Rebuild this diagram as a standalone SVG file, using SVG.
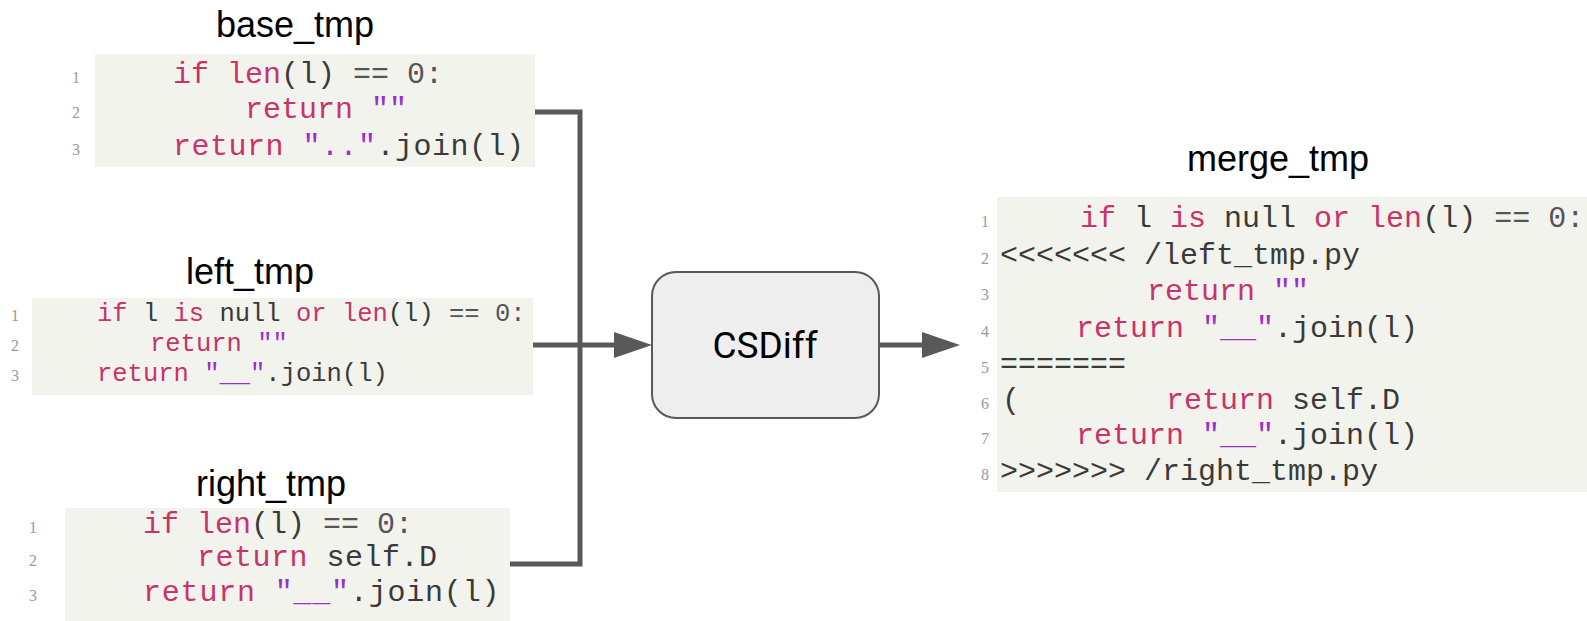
<svg xmlns="http://www.w3.org/2000/svg" width="1587" height="621" viewBox="0 0 1587 621">
<style>
.bg{fill:#f3f3ee}
.lbl{font-family:"Liberation Sans",Arial,sans-serif;font-size:36px;fill:#000;text-anchor:middle}
.code{font-family:"Liberation Mono","Courier New",monospace;fill:#3a3a3a;white-space:pre}
.c30{font-size:30px}
.c25{font-size:25.5px}
.kw{fill:#c8336a}
.st{fill:#9b2fc9}
.gy{fill:#555}
.ln{font-family:"Liberation Serif","Times New Roman",serif;font-size:16px;fill:#999;text-anchor:middle}
.conn{fill:none;stroke:#595959;stroke-width:5}
</style>
<defs>
<marker id="arr" markerUnits="userSpaceOnUse" markerWidth="38" markerHeight="26" viewBox="0 0 38 26" refX="26" refY="13" orient="auto">
<path d="M0,0 L38,13 L0,26 z" fill="#595959"/>
</marker>
</defs>
<rect width="1587" height="621" fill="#fff"/>

<g id="node-base">
<text class="lbl" x="295" y="37">base_tmp</text>
<rect class="bg" x="95" y="54" width="440" height="113"/>
<text class="ln" x="76" y="83">1</text>
<text class="ln" x="76" y="118">2</text>
<text class="ln" x="76" y="155">3</text>
<text class="code c30" x="173" y="83" xml:space="preserve"><tspan class="kw">if</tspan> <tspan class="kw">len</tspan>(l) <tspan class="gy">==</tspan> <tspan class="gy">0:</tspan></text>
<text class="code c30" x="245" y="118" xml:space="preserve"><tspan class="kw">return</tspan> <tspan class="st">""</tspan></text>
<text class="code c30" x="173" y="155" xml:space="preserve" letter-spacing="0.5"><tspan class="kw">return</tspan> <tspan class="st">".."</tspan>.join(l)</text>
</g>

<g id="node-left">
<text class="lbl" x="250" y="284">left_tmp</text>
<rect class="bg" x="32" y="298" width="501" height="97"/>
<text class="ln" x="15" y="321">1</text>
<text class="ln" x="15" y="351">2</text>
<text class="ln" x="15" y="381">3</text>
<text class="code c25" x="97" y="321" xml:space="preserve"><tspan class="kw">if</tspan> l <tspan class="kw">is</tspan> null <tspan class="kw">or</tspan> <tspan class="kw">len</tspan>(l) <tspan class="gy">==</tspan> <tspan class="gy">0:</tspan></text>
<text class="code c25" x="150" y="351" xml:space="preserve"><tspan class="kw">return</tspan> <tspan class="st">""</tspan></text>
<text class="code c25" x="97" y="381" xml:space="preserve"><tspan class="kw">return</tspan> <tspan class="st">"__"</tspan>.join(l)</text>
</g>

<g id="node-right">
<text class="lbl" x="271" y="496">right_tmp</text>
<rect class="bg" x="65" y="508" width="445" height="113"/>
<text class="ln" x="33" y="533">1</text>
<text class="ln" x="33" y="566">2</text>
<text class="ln" x="33" y="601">3</text>
<text class="code c30" x="143" y="533" xml:space="preserve"><tspan class="kw">if</tspan> <tspan class="kw">len</tspan>(l) <tspan class="gy">==</tspan> <tspan class="gy">0:</tspan></text>
<text class="code c30" x="197" y="566" xml:space="preserve" letter-spacing="0.5"><tspan class="kw">return</tspan> self.D</text>
<text class="code c30" x="143" y="601" xml:space="preserve" letter-spacing="0.8"><tspan class="kw">return</tspan> <tspan class="st">"__"</tspan>.join(l)</text>
</g>

<g id="node-csdiff">
<rect x="652" y="272" width="227" height="146" rx="24" ry="24" fill="#eeeeee" stroke="#595959" stroke-width="2"/>
<text x="765" y="358" font-family="Roboto,'Liberation Sans',sans-serif" font-size="37" text-anchor="middle" fill="#000">CSDiff</text>
</g>

<g id="node-merge">
<text class="lbl" x="1278" y="171">merge_tmp</text>
<rect class="bg" x="997" y="197" width="590" height="295"/>
<text class="ln" x="985" y="227">1</text>
<text class="ln" x="985" y="264">2</text>
<text class="ln" x="985" y="300">3</text>
<text class="ln" x="985" y="337">4</text>
<text class="ln" x="985" y="373">5</text>
<text class="ln" x="985" y="409">6</text>
<text class="ln" x="985" y="444">7</text>
<text class="ln" x="985" y="480">8</text>
<text class="code c30" x="1080" y="227" xml:space="preserve"><tspan class="kw">if</tspan> l <tspan class="kw">is</tspan> null <tspan class="kw">or</tspan> <tspan class="kw">len</tspan>(l) <tspan class="gy">==</tspan> <tspan class="gy">0:</tspan></text>
<text class="code c30" x="1000" y="264">&lt;&lt;&lt;&lt;&lt;&lt;&lt; /left_tmp.py</text>
<text class="code c30" x="1147" y="300" xml:space="preserve"><tspan class="kw">return</tspan> <tspan class="st">""</tspan></text>
<text class="code c30" x="1076" y="337" xml:space="preserve"><tspan class="kw">return</tspan> <tspan class="st">"__"</tspan>.join(l)</text>
<text class="code c30" x="1000" y="373">=======</text>
<text class="code c30" x="1002" y="409">(</text>
<text class="code c30" x="1166" y="409" xml:space="preserve"><tspan class="kw">return</tspan> self.D</text>
<text class="code c30" x="1076" y="444" xml:space="preserve"><tspan class="kw">return</tspan> <tspan class="st">"__"</tspan>.join(l)</text>
<text class="code c30" x="1000" y="480">&gt;&gt;&gt;&gt;&gt;&gt;&gt; /right_tmp.py</text>
</g>

<g id="connectors">
<path class="conn" d="M535,112 H580 V564 H510"/>
<path class="conn" d="M533,345 H640" marker-end="url(#arr)"/>
<path class="conn" d="M879,345 H948" marker-end="url(#arr)"/>
</g>
</svg>
